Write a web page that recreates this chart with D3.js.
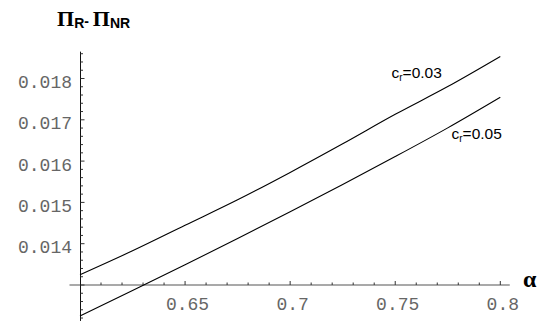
<!DOCTYPE html>
<html>
<head>
<meta charset="utf-8">
<script src="https://cdn.jsdelivr.net/npm/d3@7"></script>
<style>
  body { margin: 0; background: #fff; }
  svg { display: block; }
</style>
</head>
<body>
<div id="chart"></div>
<script>
// values
const alpha = [0.6, 0.625, 0.65, 0.675, 0.7, 0.725, 0.75, 0.775, 0.8];
const cr003 = [0.013249, 0.013828, 0.014446, 0.015063, 0.015726, 0.016419, 0.017133, 0.017804, 0.018533];
const cr005 = [0.012249, 0.012864, 0.013489, 0.014126, 0.014775, 0.015436, 0.016109, 0.016804, 0.017545];
const xTickLabels = [0.65, 0.7, 0.75, 0.8];
const yTickLabels = [0.014, 0.015, 0.016, 0.017, 0.018];
const seriesLabels = [
  { name: "0.03", values: cr003 },
  { name: "0.05", values: cr005 }
];

const width = 541, height = 325;
const svg = d3.select("#chart").append("svg")
  .attr("width", width)
  .attr("height", height);

const x = d3.scaleLinear().domain([0.6, 0.8]).range([80, 500.3]);
const y = d3.scaleLinear().domain([0.013, 0.018]).range([285, 78.5]);

const axisX = x(0.6) + 0.5;
const axisY = y(0.013);

// x axis
svg.append("line")
  .attr("x1", x(0.595)).attr("x2", x(0.8045))
  .attr("y1", axisY).attr("y2", axisY)
  .attr("stroke", "#555").attr("stroke-width", 1.2);

const xMinor = d3.range(0.61, 0.8001, 0.01);
svg.selectAll(".xtick").data(xMinor).enter().append("line")
  .attr("x1", d => x(d)).attr("x2", d => x(d))
  .attr("y1", axisY)
  .attr("y2", d => axisY - (Math.abs(d * 20 - Math.round(d * 20)) < 1e-6 ? 4 : 2.5))
  .attr("stroke", "#333");

svg.selectAll(".xlab").data(xTickLabels).enter().append("text")
  .attr("x", d => x(d) + 2.5)
  .attr("y", axisY + 25)
  .attr("text-anchor", "middle")
  .attr("font-family", "Liberation Mono, Courier New, monospace")
  .attr("font-size", 18)
  .attr("fill", "#666")
  .text(d => String(d));

// y axis
svg.append("line")
  .attr("x1", axisX).attr("x2", axisX)
  .attr("y1", y(0.01865)).attr("y2", y(0.01213))
  .attr("stroke", "#111").attr("stroke-width", 1);

const yMinor = d3.range(0.0122, 0.01861, 0.0002);
svg.selectAll(".ytick").data(yMinor).enter().append("line")
  .attr("x1", axisX)
  .attr("x2", d => axisX + (Math.abs(d * 1000 - Math.round(d * 1000)) < 1e-6 ? 4 : 2.5))
  .attr("y1", d => y(d)).attr("y2", d => y(d))
  .attr("stroke", "#333");

svg.selectAll(".ylab").data(yTickLabels).enter().append("text")
  .attr("x", axisX - 8.5)
  .attr("y", d => y(d) + 9.5)
  .attr("text-anchor", "end")
  .attr("font-family", "Liberation Mono, Courier New, monospace")
  .attr("font-size", 18)
  .attr("fill", "#666")
  .text(d => d.toFixed(3));

// curves
const line = d3.line()
  .x((d, i) => x(alpha[i]))
  .y(d => y(d))
  .curve(d3.curveMonotoneX);

svg.selectAll(".curve").data([cr003, cr005]).enter().append("path")
  .attr("d", d => line(d))
  .attr("fill", "none")
  .attr("stroke", "#000")
  .attr("stroke-width", 1.1);

// curve labels
const labelX = [391.5, 451.5];
const labelY = [78.3, 139.3];
seriesLabels.forEach((s, i) => {
  const t = svg.append("text")
    .attr("x", labelX[i])
    .attr("y", labelY[i])
    .attr("font-family", "Liberation Sans, Arial, sans-serif")
    .attr("font-size", 15.5)
    .attr("fill", "#000");
  t.append("tspan").text("c");
  t.append("tspan").attr("font-size", 10).attr("dy", 3).text("r");
  t.append("tspan").attr("dy", -3).text("=" + s.name);
});

// title
const title = svg.append("text")
  .attr("x", 57)
  .attr("y", 26)
  .attr("font-weight", "bold")
  .attr("fill", "#000");
title.append("tspan")
  .attr("font-family", "Liberation Serif, Times New Roman, serif")
  .attr("font-size", 22).text("\u03A0");
title.append("tspan")
  .attr("font-family", "Liberation Sans, Arial, sans-serif")
  .attr("font-size", 14).attr("dy", 2.3).text("R");
title.append("tspan")
  .attr("font-family", "Liberation Sans, Arial, sans-serif")
  .attr("font-size", 14).attr("dy", -2.3).text("- ");
title.append("tspan")
  .attr("font-family", "Liberation Serif, Times New Roman, serif")
  .attr("font-size", 22).text("\u03A0");
title.append("tspan")
  .attr("font-family", "Liberation Sans, Arial, sans-serif")
  .attr("font-size", 14).attr("dy", 2.3).text("NR");

// x axis label
svg.append("text")
  .attr("x", 523)
  .attr("y", 286.5)
  .attr("font-family", "Liberation Serif, Times New Roman, serif")
  .attr("font-weight", "bold")
  .attr("font-size", 24)
  .attr("fill", "#000")
  .text("\u03B1");
</script>
</body>
</html>
